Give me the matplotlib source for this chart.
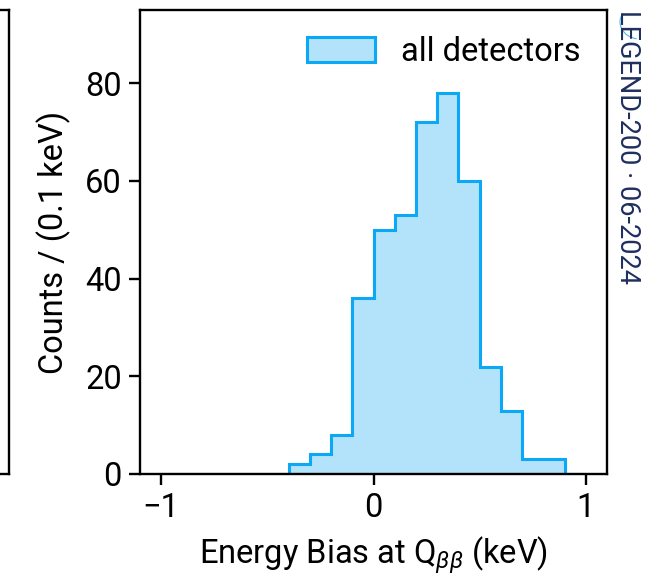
import matplotlib
matplotlib.use("Agg")
import matplotlib.pyplot as plt
import numpy as np
from matplotlib.patches import Patch, Arc

plt.rcParams['font.family'] = ['Roboto', 'DejaVu Sans']
plt.rcParams['mathtext.fontset'] = 'custom'
plt.rcParams['mathtext.rm'] = 'Roboto'
plt.rcParams['mathtext.it'] = 'Roboto:italic'

bin_edges = [round(-1.0 + 0.1 * i, 1) for i in range(21)]
counts = [0, 0, 0, 0, 0, 0, 2, 4, 8, 36, 50, 53, 72, 78, 60, 22, 13, 3, 3, 0]
series_label = "all detectors"
xticks = [-1, 0, 1]
yticks = [0, 20, 40, 60, 80]

edge_c = '#0aa8f5'
fill_c = '#b3e3fa'

fig = plt.figure(figsize=(6.49, 5.83), dpi=100)
W, H = 649, 583

# partial left panel
axl = fig.add_axes([(-300) / W, (H - 474) / H, 309 / W, 464 / H])
axl.set_xticks([]); axl.set_yticks([])
for s in axl.spines.values():
    s.set_linewidth(1.7)

ax = fig.add_axes([140 / W, (H - 474) / H, 467 / W, 464 / H])
ax.stairs(counts, bin_edges, fill=True, color=fill_c, linewidth=0)
ax.stairs(counts, bin_edges, fill=False, color=edge_c, linewidth=2.2)
ax.set_xlim(-1.1, 1.1)
ax.set_ylim(0, 95)
ax.set_xticks(xticks)
ax.set_xticklabels(['\u22121', '0', '1'])
ax.set_yticks(yticks)
ax.tick_params(labelsize=23.5, width=1.7, length=8, direction='out', pad=5)
for s in ax.spines.values():
    s.set_linewidth(1.7)
ax.set_xlabel(r'Energy Bias at Q$_{\beta\beta}$ (keV)', fontsize=23.5, labelpad=8)
ax.set_ylabel('Counts / (0.1 keV)', fontsize=23.5, labelpad=10)

h = Patch(facecolor=fill_c, edgecolor=edge_c, linewidth=2.2)
ax.legend([h], [series_label], loc='upper right', frameon=False, fontsize=23.5,
          handlelength=2.1, handleheight=0.8, handletextpad=0.8, borderaxespad=0.4)

fig.text(627 / W, 1 - 10 / H, 'LEGEND-200 \u00b7 06-2024', rotation=-90,
         ha='center', va='top', fontsize=19.5, color='#1f2f5e')
# logo swoosh
fig.add_artist(Arc((640 / W, 1 - 22 / H), 40 / W, 34 / H, angle=0, theta1=150, theta2=260,
                   color='#4fb8ee', lw=0.8, transform=fig.transFigure))

fig.savefig('out.png', dpi=100)
